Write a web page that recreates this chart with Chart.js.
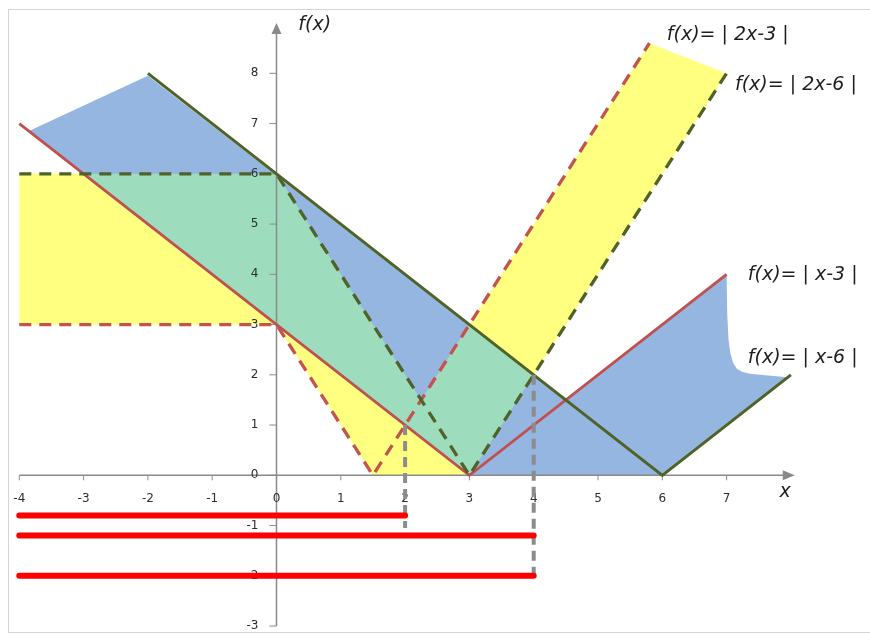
<!DOCTYPE html>
<html>
<head>
<meta charset="utf-8">
<script src="https://cdn.jsdelivr.net/npm/chart.js@4"></script>
<style>
  html, body { margin: 0; padding: 0; background: #ffffff; overflow: hidden; }
  #wrap { position: relative; width: 870px; height: 635px; }
  #frame { position: absolute; left: 8px; top: 9px; width: 900px; height: 624px;
           border: 1px solid #d4d4d4; box-sizing: border-box; }
  #c { position: absolute; left: 0; top: 0; }
</style>
</head>
<body>
<div id="wrap">
  <div id="frame"></div>
  <canvas id="c" width="870" height="635"></canvas>
</div>
<script>
// ---- tick labels ----
const xTicks = [-4, -3, -2, -1, 0, 1, 2, 3, 4, 5, 6, 7];
const yTicks = [-3, -2, -1, 0, 1, 2, 3, 4, 5, 6, 7, 8];

// ---- graphs (vertices of the broken lines) ----
// f(x) = |x-3|
const absX3X = [-4, 3, 7];
const absX3Y = [7, 0, 4];
// f(x) = |x-6|
const absX6X = [-2, 6, 8];
const absX6Y = [8, 0, 2];
// f(x) = |2x-3|, with the level y = 3 to the left of the axis
const abs2X3X = [-4, 0, 1.5, 5.8];
const abs2X3Y = [3, 3, 0, 8.6];
// f(x) = |2x-6|, with the level y = 6 to the left of the axis
const abs2X6X = [-4, 0, 3, 7];
const abs2X6Y = [6, 6, 0, 8];

// ---- shaded regions (polygon vertices) ----
// band between |2x-3| and |2x-6|
const bandYellowX = [-4, 0, 2.25, 5.8, 7, 3, 1.5, 0, -4];
const bandYellowY = [6, 6, 1.5, 8.6, 8, 0, 0, 3, 3];
// band between |x-3| and |x-6|
const bandBlueX = [-3.85, -2, 4.5, 7, 7.01, 7.03, 7.06, 7.1, 7.16, 7.24, 7.36, 7.6, 7.95, 6, 3, -3.85];
const bandBlueY = [6.85, 7.95, 1.5, 3.98, 3.2, 2.7, 2.42, 2.24, 2.12, 2.06, 2.02, 1.99, 1.95, 0, 0, 6.85];
// where both bands overlap
const bandBothX = [-3, 0, 2.25, 3, 4, 3, -3];
const bandBothY = [6, 6, 1.5, 3, 2, 0, 6];

// ---- solution intervals and guides ----
const guideX = [2, 4];
const guideTop = [1, 2];
const guideBottom = [-1.05, -2];
const answerY = [-0.8, -1.2, -2];
const answerFrom = [-4, -4, -4];
const answerTo = [2, 4, 4];

// ---- captions ----
const captionText = ['f(x)= | 2x-3 |', 'f(x)= | 2x-6 |', 'f(x)= | x-3 |', 'f(x)= | x-6 |'];
const captionAt = [[6.07, 8.76], [7.13, 7.76], [7.33, 3.98], [7.33, 2.33]];
const xAxisSpan = [-4, 8.06];
const yAxisSpan = [-3, 9.0];

const pts = (xs, ys) => xs.map((v, i) => ({ x: v, y: ys[i] }));

const RED = '#c0504d';
const GREEN = '#4f6228';
const AXIS = '#8a8a8a';

function region(xs, ys, color, order) {
  return { data: pts(xs, ys), showLine: true, fill: 'shape', backgroundColor: color,
           borderColor: 'rgba(0,0,0,0)', borderWidth: 0, pointRadius: 0, order };
}
function graph(xs, ys, color, width, dash, order, extra) {
  return Object.assign({ data: pts(xs, ys), showLine: true, fill: false, borderColor: color,
           borderWidth: width, borderDash: dash, pointRadius: 0, order,
           borderJoinStyle: 'miter', borderCapStyle: 'butt' }, extra || {});
}

const datasets = [
  region(bandYellowX, bandYellowY, '#ffff80', 30),
  region(bandBlueX, bandBlueY, '#94b6e0', 29),
  region(bandBothX, bandBothY, '#9ddcbd', 28),
  graph(absX3X, absX3Y, RED, 2.8, [], 20, { axesBelow: true }),
  graph(absX6X, absX6Y, GREEN, 3, [], 19),
  graph(abs2X3X, abs2X3Y, '#c4524e', 3.3, [12, 8], 18),
  graph(abs2X6X, abs2X6Y, GREEN, 3.3, [12, 8], 17)
];
guideX.forEach((gx, i) => {
  datasets.push(graph([gx, gx], [guideTop[i], guideBottom[i]], '#8c8c8c', 4, [10, 6], 10 - i));
});
answerY.forEach((ay, i) => {
  datasets.push(graph([answerFrom[i], answerTo[i]], [ay, ay], '#ff0000', 6, [], 5 - i,
    { borderCapStyle: 'round' }));
});

function drawAxes(chart) {
  const { ctx, scales: { x, y } } = chart;
  const x0 = x.getPixelForValue(0), y0 = y.getPixelForValue(0);
  const xl = x.getPixelForValue(xAxisSpan[0]), xr = x.getPixelForValue(xAxisSpan[1]);
  const yb = y.getPixelForValue(yAxisSpan[0]), yt = y.getPixelForValue(yAxisSpan[1]);
  ctx.save();
  ctx.strokeStyle = AXIS;
  ctx.fillStyle = AXIS;
  ctx.lineWidth = 1.5;
  ctx.beginPath();
  ctx.moveTo(xl, y0); ctx.lineTo(xr - 8, y0);
  ctx.moveTo(x0, yb); ctx.lineTo(x0, yt + 8);
  ctx.stroke();
  ctx.beginPath();
  ctx.moveTo(xr, y0); ctx.lineTo(xr - 12, y0 - 5); ctx.lineTo(xr - 12, y0 + 5); ctx.closePath();
  ctx.moveTo(x0, yt); ctx.lineTo(x0 - 5, yt + 11); ctx.lineTo(x0 + 5, yt + 11); ctx.closePath();
  ctx.fill();
  ctx.lineWidth = 1;
  ctx.beginPath();
  xTicks.forEach(v => { const px = x.getPixelForValue(v); ctx.moveTo(px, y0); ctx.lineTo(px, y0 + 5); });
  yTicks.forEach(v => { const py = y.getPixelForValue(v); ctx.moveTo(x0 - 7, py); ctx.lineTo(x0, py); });
  ctx.stroke();
  ctx.fillStyle = '#2e2e2e';
  ctx.font = '12px "DejaVu Sans"';
  ctx.textBaseline = 'middle';
  ctx.textAlign = 'center';
  xTicks.forEach(v => ctx.fillText(String(v), x.getPixelForValue(v), y0 + 24));
  ctx.textAlign = 'right';
  yTicks.forEach(v => ctx.fillText(String(v), x0 - 18, y.getPixelForValue(v)));
  ctx.restore();
}

function drawCaptions(chart) {
  const { ctx, scales: { x, y } } = chart;
  ctx.save();
  ctx.fillStyle = '#1e1e1e';
  ctx.font = 'italic 19px "DejaVu Sans"';
  ctx.textBaseline = 'middle';
  ctx.textAlign = 'left';
  captionText.forEach((t, i) => {
    ctx.fillText(t, x.getPixelForValue(captionAt[i][0]), y.getPixelForValue(captionAt[i][1]));
  });
  ctx.fillText('f(x)', x.getPixelForValue(0.34), y.getPixelForValue(8.96));
  ctx.textAlign = 'center';
  ctx.fillText('x', x.getPixelForValue(7.91), y.getPixelForValue(-0.33));
  ctx.restore();
}

const axesPlugin = {
  id: 'crossAxes',
  beforeDatasetDraw(chart, args) {
    if (chart.data.datasets[args.index].axesBelow) drawAxes(chart);
  },
  afterDatasetsDraw(chart) { drawCaptions(chart); }
};

new Chart(document.getElementById('c'), {
  type: 'scatter',
  data: { datasets },
  options: {
    responsive: false,
    animation: false,
    layout: { padding: 0 },
    scales: {
      x: { type: 'linear', min: -4.300, max: 9.230, display: false },
      y: { type: 'linear', min: -3.178, max: 9.459, display: false }
    },
    plugins: { legend: { display: false }, tooltip: { enabled: false } },
    elements: { line: { tension: 0 } }
  },
  plugins: [axesPlugin]
});
</script>
</body>
</html>
